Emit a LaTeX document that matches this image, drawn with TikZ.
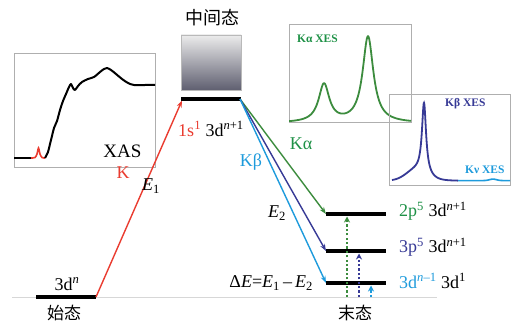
\documentclass[tikz,border=0pt]{standalone}
\usepackage{fontspec}
\setmainfont{Liberation Serif}
\newfontfamily\cjk{Noto Sans CJK SC}
\usetikzlibrary{arrows.meta}
\definecolor{cred}{RGB}{234,60,48}
\definecolor{cgreen}{RGB}{60,140,62}
\definecolor{ctgreen}{RGB}{30,145,70}
\definecolor{cdblue}{RGB}{55,58,150}
\definecolor{clblue}{RGB}{30,155,220}
\definecolor{cframe}{RGB}{175,175,175}
\definecolor{cbase}{RGB}{215,215,215}
\begin{document}
\begin{tikzpicture}[x=1pt,y=-1pt,
  level/.style={line width=3.6pt},
  trans/.style={line width=1.4pt,-{Stealth[length=7pt,width=5pt]}},
  exc/.style={line width=2.2pt,dash pattern=on 2.2pt off 2.2pt,-{Stealth[length=6pt,width=6pt]}},
  big/.style={inner sep=0pt,font=\fontsize{18}{20}\selectfont},
  cjkt/.style={inner sep=0pt,font=\cjk\fontsize{17}{19}\selectfont},
  small/.style={inner sep=0pt,font=\bfseries\fontsize{11.5}{13}\selectfont},
  frame/.style={draw=cframe,line width=0.7pt}]
\useasboundingbox[fill=white] (0,0) rectangle (519,331);

% baseline
\draw[cbase,line width=0.8pt] (12,297) -- (437,297);

% XAS inset
\draw[frame] (14,53) rectangle (155,167);
\draw[line width=1.8pt] (14,158) -- (31,158);
\draw[cred,line width=1.6pt] plot[smooth] coordinates {(31,158) (35,157.5) (37,154) (38.5,148) (40,154) (42,157.5) (45,158)};
\draw[line width=2pt,line join=round] plot[smooth,tension=0.5] coordinates {(45,158) (48,152) (50,144) (52,136) (54,128) (57,121) (60,110) (63,101) (66,94) (69,87) (71,84) (73,88) (75,90) (78,86) (82,82) (88,79) (94,77) (100,72) (104,69) (107,68) (111,70) (116,74) (122,79) (128,83) (134,85) (145,85) (155,85)};
\node[big,font=\fontsize{19}{21}\selectfont] (xas) at (122.5,151) {XAS};

% K alpha inset
\draw[frame] (289,24) rectangle (411,122);
\begin{scope}
\clip (289,24) rectangle (411,122);
\draw[cgreen,line width=1.8pt] plot[domain=289:411,samples=400] (\x,{123 - 38*42.25/((\x-324)^2+42.25) - 86*42.25/((\x-368)^2+42.25)});
\end{scope}
\node[small,ctgreen,anchor=west] (kaxes) at (297,39) {Kα XES};

% K beta inset
\draw[frame] (389,94) rectangle (510,185);
\draw[cdblue,line width=1.8pt] plot[domain=392:458,samples=300] (\x,{181 - 71*6.25/((\x-424)^2+6.25) - 10*exp(-((\x-416)^2)/200)});
\draw[clblue,line width=1.6pt] plot[domain=458:510,samples=80] (\x,{180.6 - 1.5*exp(-((\x-493)^2)/25)});
\node[small,cdblue,anchor=west] (kbxes) at (445,104) {Kβ XES};
\node[small,clblue,anchor=west] (kvxes) at (465,170) {Kν XES};

% intermediate state box
\shade[top color=gray!15,bottom color={rgb,255:red,95;green,95;blue,112}] (181,35) rectangle (241,90);
\draw[gray!55,line width=0.5pt] (181,35) rectangle (241,90);
\node[cjkt,font=\cjk\fontsize{18}{20}\selectfont] (mid) at (212,18) {中间态};

% levels
\coordinate (g0) at (36,297); \coordinate (g1) at (96,297);
\coordinate (m0) at (181,99); \coordinate (m1) at (241,99);
\coordinate (a0) at (326,214); \coordinate (a1) at (386,214);
\coordinate (b0) at (326,251); \coordinate (b1) at (386,251);
\coordinate (c0) at (326,283); \coordinate (c1) at (386,283);
\draw[level] (g0) -- (g1);
\draw[level] (m0) -- (m1);
\draw[level] (a0) -- (a1);
\draw[level] (b0) -- (b1);
\draw[level] (c0) -- (c1);

% transitions
\coordinate (mt) at (182,100.5);
\draw[trans,cred] (g1) -- (mt);
\coordinate (ms) at (240,99);
\draw[trans,cgreen] (ms) -- (a0);
\draw[trans,cdblue] (ms) -- (b0);
\draw[trans,clblue] (ms) -- (c0);

% excitation dotted arrows
\coordinate (pa) at (347,297); \coordinate (qa) at (347,216.5);
\coordinate (pb) at (359,297); \coordinate (qb) at (359,253.5);
\coordinate (pc) at (371,297); \coordinate (qc) at (371,285.5);
\draw[exc,cgreen] (pa) -- (qa);
\draw[exc,cdblue] (pb) -- (qb);
\draw[exc,clblue] (pc) -- (qc);

% labels
\node[big] (l3dn) at (67,284) {3d\textsuperscript{\itshape n}};
\node[cjkt] (start) at (64,313) {始态};
\node[cjkt] (final) at (355,313) {末态};
\node[big] (l1s) at (211,129) {\textcolor{cred}{1s\textsuperscript{1}} 3d\textsuperscript{\itshape n\upshape+1}};
\node[big,cred] (lk) at (123,173) {K};
\node[big] (le1) at (151,186) {\itshape E\upshape\textsubscript{1}};
\node[big,clblue] (lkb) at (251,162) {Kβ};
\node[big,ctgreen] (lka) at (301,144) {Kα};
\node[big] (le2) at (277,213) {\itshape E\upshape\textsubscript{2}};
\node[big,anchor=east] (lde) at (313,283) {Δ\textit{E}=\textit{E}\textsubscript{1}\,--\,\textit{E}\textsubscript{2}};
\node[big,anchor=west] (la) at (399,211) {\textcolor{ctgreen}{2p\textsuperscript{5}} 3d\textsuperscript{\itshape n\upshape+1}};
\node[big,anchor=west] (lb) at (399,247) {\textcolor{cdblue}{3p\textsuperscript{5}} 3d\textsuperscript{\itshape n\upshape+1}};
\node[big,anchor=west] (lc) at (399,281) {\textcolor{clblue}{3d\textsuperscript{\itshape n\upshape--1}} 3d\textsuperscript{1}};
\end{tikzpicture}
\end{document}
